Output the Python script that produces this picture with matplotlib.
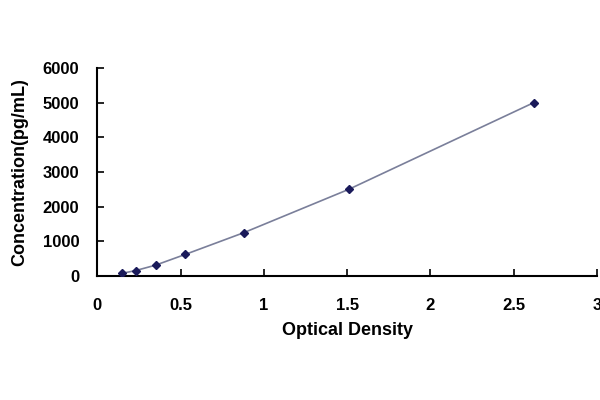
import matplotlib as mpl
mpl.use('Agg')
import matplotlib.pyplot as plt

# standard curve values
od = [0.15, 0.23, 0.35, 0.53, 0.88, 1.51, 2.62]
conc = [78, 156, 312, 625, 1250, 2500, 5000]
xticks = [0, 0.5, 1, 1.5, 2, 2.5, 3]
xticklabels = ['0', '0.5', '1', '1.5', '2', '2.5', '3']
yticks = [0, 1000, 2000, 3000, 4000, 5000, 6000]

plt.rcParams['font.family'] = ['Liberation Sans', 'DejaVu Sans']
plt.rcParams['font.weight'] = 'bold'

fig = plt.figure(figsize=(6, 4), dpi=100)
ax = fig.add_axes([0.162, 0.31, 0.833, 0.52])

ax.plot(od, conc, color='#7a7f9a', lw=1.2, zorder=2)
ax.plot(od, conc, ls='none', marker='D', ms=4, color='#1a1a5a', zorder=3)

ax.set_xlim(0, 3)
ax.set_ylim(0, 6000)
ax.set_xticks(xticks)
ax.set_xticklabels(xticklabels)
ax.set_yticks(yticks)
ax.spines['top'].set_visible(False)
ax.spines['right'].set_visible(False)
ax.spines['left'].set_linewidth(1.5)
ax.spines['bottom'].set_linewidth(1.5)
ax.tick_params(direction='in', length=5, width=1.2, labelsize=12, pad=16)
ax.tick_params(axis='y', pad=13)

ax.set_xlabel('Optical Density', fontsize=13, fontweight='bold', labelpad=6)
ax.set_ylabel('Concentration(pg/mL)', fontsize=13, fontweight='bold', labelpad=10)

fig.savefig('out.png', dpi=100)
